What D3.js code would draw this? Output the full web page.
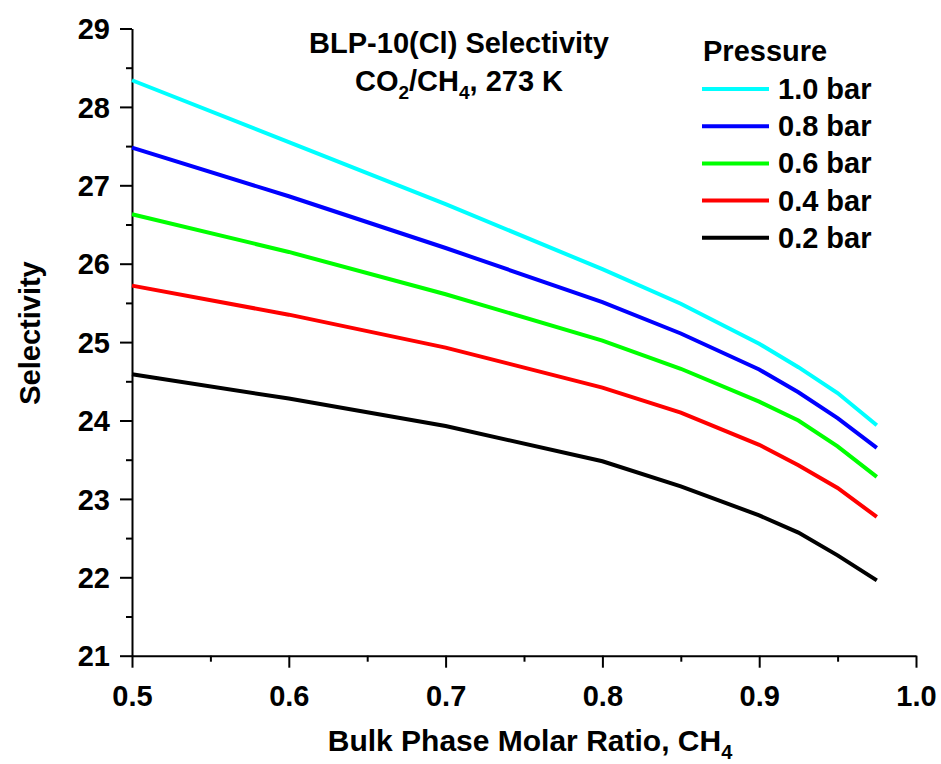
<!DOCTYPE html>
<html>
<head>
<meta charset="utf-8">
<script src="https://cdn.jsdelivr.net/npm/d3@7"></script>
<style>
  body { margin: 0; background: #fff; }
  text { font-family: "Liberation Sans", Arial, sans-serif; font-weight: bold; fill: #000; }
</style>
</head>
<body>
<script>
// CH4 molar ratio in the bulk phase
const ratio = [0.5, 0.6, 0.7, 0.8, 0.85, 0.9, 0.925, 0.95, 0.975];

// selectivity for each pressure
const sel10 = [28.34, 27.55, 26.76, 25.93, 25.49, 24.98, 24.68, 24.35, 23.94];
const sel08 = [27.48, 26.86, 26.20, 25.51, 25.11, 24.65, 24.36, 24.03, 23.65];
const sel06 = [26.63, 26.15, 25.61, 25.02, 24.66, 24.24, 24.00, 23.67, 23.28];
const sel04 = [25.72, 25.35, 24.93, 24.42, 24.10, 23.69, 23.43, 23.14, 22.77];
const sel02 = [24.59, 24.28, 23.93, 23.48, 23.16, 22.79, 22.57, 22.28, 21.96];

const seriesNames = ["1.0 bar", "0.8 bar", "0.6 bar", "0.4 bar", "0.2 bar"];
const seriesColors = ["#00ffff", "#0000ff", "#00ff00", "#ff0000", "#000000"];
const seriesValues = [sel10, sel08, sel06, sel04, sel02];

const xTicks = [0.5, 0.6, 0.7, 0.8, 0.9, 1.0];
const yTicks = [21, 22, 23, 24, 25, 26, 27, 28, 29];

const margin = { top: 28.5, right: 25, bottom: 108.3, left: 132 },
  width = 941 - margin.left - margin.right,
  height = 764 - margin.top - margin.bottom;

const x = d3.scaleLinear().domain([0.5, 1.0]).range([0, width]);
const y = d3.scaleLinear().domain([21, 29]).range([height, 0]);

const svg = d3
  .select("body")
  .append("svg")
  .attr("width", 941)
  .attr("height", 764);

const g = svg
  .append("g")
  .attr("transform", `translate(${margin.left}, ${margin.top})`);

// minor ticks
g.append("g")
  .attr("transform", `translate(0, ${height})`)
  .call(d3.axisBottom(x).tickValues(d3.range(0.55, 1.0, 0.1)).tickSize(6).tickFormat(""))
  .call(a => a.select(".domain").remove())
  .selectAll("line").attr("stroke-width", 2);

g.append("g")
  .call(d3.axisLeft(y).tickValues(d3.range(21.5, 29, 1)).tickSize(6).tickFormat(""))
  .call(a => a.select(".domain").remove())
  .selectAll("line").attr("stroke-width", 2);

const xAxis = g
  .append("g")
  .attr("transform", `translate(0, ${height})`)
  .call(d3.axisBottom(x).tickValues(xTicks).tickSize(12).tickSizeOuter(0).tickPadding(12).tickFormat(d3.format(".1f")));

const yAxis = g
  .append("g")
  .call(d3.axisLeft(y).tickValues(yTicks).tickSize(12).tickSizeOuter(0).tickPadding(10).tickFormat(d3.format("d")));

[xAxis, yAxis].forEach(a => {
  a.select(".domain").attr("stroke-width", 2);
  a.selectAll("line").attr("stroke-width", 2);
  a.selectAll("text")
    .style("font-size", "29px")
    .style("font-family", "'Liberation Sans', Arial, sans-serif")
    .style("font-weight", "bold")
    .attr("fill", "#000");
});
xAxis.selectAll("text").attr("dy", "0.92em");
yAxis.selectAll("text").attr("dy", "0.35em");

const line = d3
  .line()
  .x((d, i) => x(ratio[i]))
  .y(d => y(d));

g.selectAll(".series")
  .data(seriesValues)
  .enter()
  .append("path")
  .attr("class", "series")
  .attr("fill", "none")
  .attr("stroke", (d, i) => seriesColors[i])
  .attr("stroke-width", 4)
  .attr("d", line);

// title
svg.append("text")
  .attr("x", 459)
  .attr("y", 53)
  .attr("text-anchor", "middle")
  .style("font-size", "29px")
  .text("BLP-10(Cl) Selectivity");

const sub = svg.append("text")
  .attr("x", 459)
  .attr("y", 91)
  .attr("text-anchor", "middle")
  .style("font-size", "29px");
sub.append("tspan").text("CO");
sub.append("tspan").attr("dy", 8).style("font-size", "19px").text("2");
sub.append("tspan").attr("dy", -8).text("/CH");
sub.append("tspan").attr("dy", 8).style("font-size", "19px").text("4");
sub.append("tspan").attr("dy", -8).text(", 273 K");

// axis titles
const xt = svg.append("text")
  .attr("x", 530)
  .attr("y", 751)
  .attr("text-anchor", "middle")
  .style("font-size", "30px");
xt.append("tspan").text("Bulk Phase Molar Ratio, CH");
xt.append("tspan").attr("dy", 8).style("font-size", "20px").text("4");

svg.append("text")
  .attr("transform", "translate(40, 333) rotate(-90)")
  .attr("text-anchor", "middle")
  .style("font-size", "29px")
  .text("Selectivity");

// legend
svg.append("text")
  .attr("x", 703)
  .attr("y", 61)
  .style("font-size", "29px")
  .text("Pressure");

const legend = svg
  .selectAll(".legend")
  .data(seriesNames)
  .enter()
  .append("g")
  .attr("class", "legend")
  .attr("transform", (d, i) => `translate(702, ${89 + i * 37.2})`);

legend
  .append("line")
  .attr("x1", 0)
  .attr("x2", 67)
  .attr("stroke", (d, i) => seriesColors[i])
  .attr("stroke-width", 4);

legend
  .append("text")
  .attr("x", 76)
  .attr("y", 10)
  .style("font-size", "29px")
  .text(d => d);
</script>
</body>
</html>
